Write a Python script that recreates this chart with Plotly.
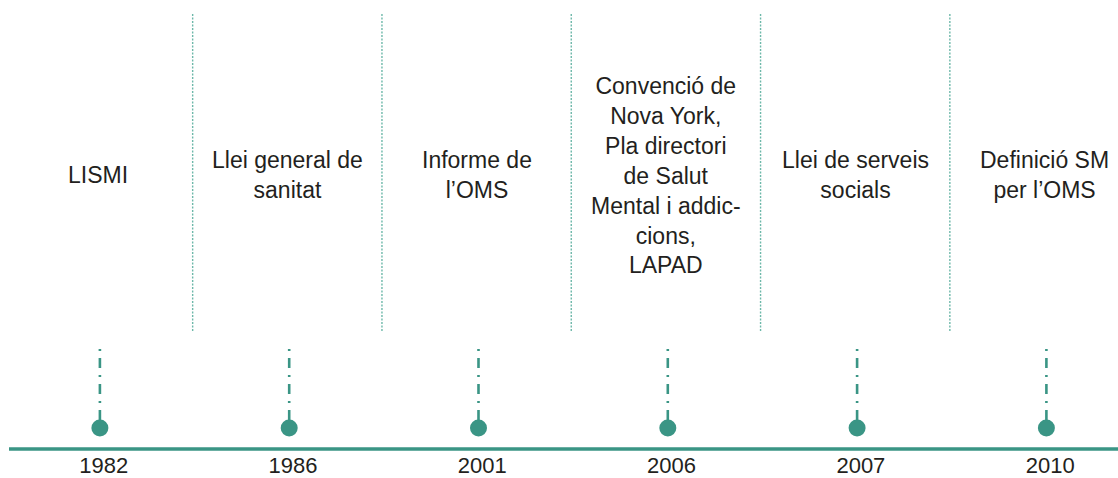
import plotly.graph_objects as go

years = ["1982", "1986", "2001", "2006", "2007", "2010"]
events = [
    "LISMI",
    "Llei general de<br>sanitat",
    "Informe de<br>l’OMS",
    "Convenció de<br>Nova York,<br>Pla directori<br>de Salut<br>Mental i addic-<br>cions,<br>LAPAD",
    "Llei de serveis<br>socials",
    "Definició SM<br>per l’OMS",
]

TEAL = "#3A9585"
SEP = "#6DB8A9"
TXT = "#231F20"

W, H = 1118, 478
X0, DX = 99.9, 189.3  # pixel mapping for index positions
xr = [(0 - X0) / DX, (W - X0) / DX]

idx = list(range(len(years)))
fig = go.Figure()

# baseline
fig.add_trace(go.Scatter(x=[(9 - X0) / DX, xr[1] + 0.1], y=[449, 449], mode="lines",
                         line=dict(color=TEAL, width=3.5), hoverinfo="skip", showlegend=False))

# separators
for i in idx[:-1]:
    fig.add_trace(go.Scatter(x=[i + 0.49, i + 0.49], y=[14, 332], mode="lines",
                             line=dict(color=SEP, width=1.4, dash="2px,1.5px"),
                             hoverinfo="skip", showlegend=False))

# stems
for i in idx:
    fig.add_trace(go.Scatter(x=[i, i], y=[349, 421], mode="lines",
                             line=dict(color=TEAL, width=2.6, dash="2px,7px,10px,7px"),
                             hoverinfo="skip", showlegend=False))

# dots
fig.add_trace(go.Scatter(x=idx, y=[428] * len(idx), mode="markers",
                         marker=dict(color=TEAL, size=17, line=dict(width=0)),
                         hoverinfo="skip", showlegend=False))

# year labels
fig.add_trace(go.Scatter(x=[i + 0.02 for i in idx], y=[467] * len(idx), mode="text", text=years,
                         textposition="middle center",
                         textfont=dict(family="Liberation Sans, Arial, sans-serif", size=22, color=TXT),
                         hoverinfo="skip", showlegend=False))

# event labels
for i, ev in zip(idx, events):
    fig.add_annotation(x=i - 0.01, y=175, text=ev, showarrow=False, xanchor="center", yanchor="middle",
                       align="center", valign="middle",
                       font=dict(family="Liberation Sans, Arial, sans-serif", size=23, color=TXT))

fig.update_layout(
    width=W, height=H,
    margin=dict(l=0, r=0, t=0, b=0),
    paper_bgcolor="white", plot_bgcolor="white",
    xaxis=dict(range=xr, visible=False, fixedrange=True),
    yaxis=dict(range=[H, 0], visible=False, fixedrange=True),
)

fig.write_html("out.html", config={"displayModeBar": False},
               post_script="document.body.style.margin='0';document.body.style.padding='0';")
